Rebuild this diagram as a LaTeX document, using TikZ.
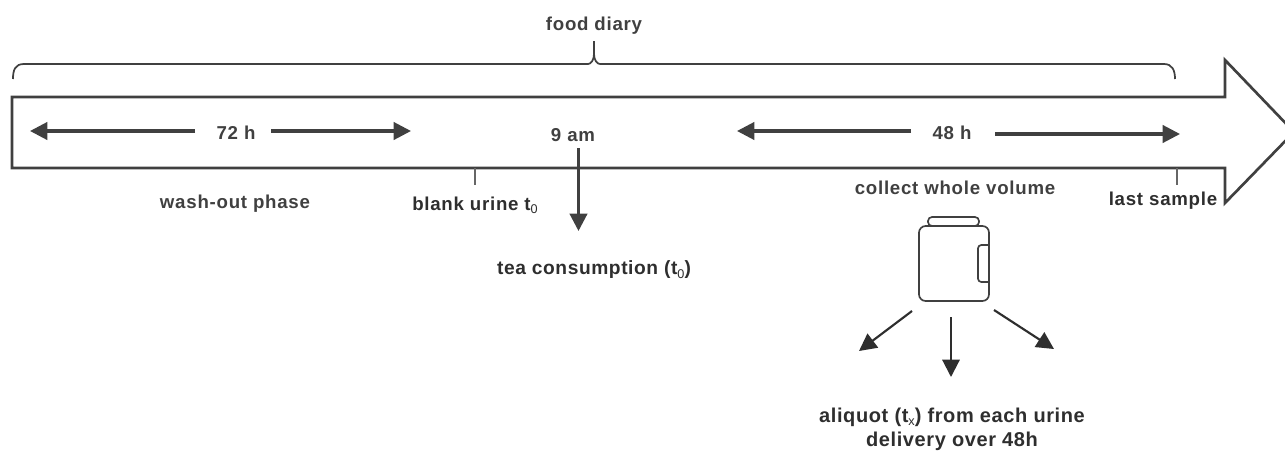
\documentclass[tikz,border=0pt]{standalone}
\usepackage{fontspec}
\setmainfont{Liberation Sans}
\usetikzlibrary{arrows.meta}
\definecolor{ink}{HTML}{404040}
\definecolor{ink2}{HTML}{2E2E2E}
\newcommand{\lowidx}[1]{\raisebox{-2.5pt}{\fontsize{9.5}{10}\selectfont\mdseries #1}}
\tikzset{
  px/.style={x=0.75pt,y=-0.75pt},
  outline/.style={draw=ink,line width=2pt,line join=miter},
  thinline/.style={draw=ink!80,line width=0.9pt},
  braceline/.style={draw=ink,line width=1.3pt},
  jarline/.style={draw=ink,line width=1.25pt},
  arr/.style={draw=ink,line width=2.3pt,-{Triangle[length=13pt,width=13pt]}},
  arrd/.style={draw=ink2,line width=1.6pt,-{Triangle[length=13pt,width=13pt]}},
  lab/.style={text=ink,font=\bfseries\fontsize{14}{16}\selectfont\addfontfeature{LetterSpace=4},inner sep=0pt},
  labd/.style={text=ink2,font=\bfseries\fontsize{14.4}{18.6}\selectfont\addfontfeature{LetterSpace=3},inner sep=0pt,align=center},
}
\begin{document}
\begin{tikzpicture}[px]
\useasboundingbox (0,0) rectangle (1285,450);
% big arrow
\draw[outline] (12,97) -- (1225,97) -- (1225,60) -- (1294,132) -- (1225,203) -- (1225,168) -- (12,168) -- cycle;
% brace
\coordinate (bl) at (13,79);
\coordinate (br) at (1175,79);
\coordinate (bt) at (594,41);
\draw[braceline] (bl) .. controls (13,70) and (15,64) .. (24,64) -- (588,64) .. controls (591,64) and (594,60) .. (594,54) -- (bt) -- (594,54) .. controls (594,60) and (597,64) .. (600,64) -- (1164,64) .. controls (1172,64) and (1175,70) .. (br);
\node[lab] (food) at (594,26) {food diary};
% 72h
\node[lab] (h72) at (236,133) {72 h};
\coordinate (a1) at (30,131);
\coordinate (a2) at (411,131);
\draw[arr] (195,131) -- (a1);
\draw[arr] (271,131) -- (a2);
% 48 h
\node[lab] (h48) at (952,133) {48 h};
\coordinate (b1) at (737,131);
\coordinate (b2) at (1180,134);
\draw[arr] (911,131) -- (b1);
\draw[arr] (995,134) -- (b2);
% 9 am
\node[lab] (am) at (573,135) {9 am};
\coordinate (teas) at (578.5,148);
\coordinate (tea) at (578.5,231);
\draw[arr] (teas) -- (tea);
% ticks
\coordinate (t1) at (475,168);
\coordinate (t1e) at (475,185);
\draw[thinline] (t1) -- (t1e);
\coordinate (t2) at (1177,168);
\coordinate (t2e) at (1177,185);
\draw[thinline] (t2) -- (t2e);
\node[lab] (wash) at (235,204) {wash-out phase};
\node[lab,text=ink2] (blank) at (475,205) {blank urine t\lowidx{0}};
\node[lab] (coll) at (955,188) {collect whole volume};
\node[lab,text=ink2] (last) at (1163,201) {last sample};
\node[labd] (teac) at (594,270) {tea consumption (t\lowidx{0})};
% jar
\draw[jarline,rounded corners=3pt] (928,226) rectangle (979,217);
\draw[jarline,rounded corners=5pt] (919,226) rectangle (989,301);
\draw[jarline,rounded corners=2.5pt] (989,245) -- (978,245) -- (978,282) -- (989,282);
% aliquot arrows
\coordinate (j1) at (912,311);
\coordinate (j2) at (951,317);
\coordinate (j3) at (994,310);
\coordinate (e1) at (859,351);
\coordinate (e2) at (951,377);
\coordinate (e3) at (1054,349);
\draw[arrd] (j1) -- (e1);
\draw[arrd] (j2) -- (e2);
\draw[arrd] (j3) -- (e3);
\node[labd,font=\bfseries\fontsize{15}{18.4}\selectfont\addfontfeature{LetterSpace=3}] (ali) at (952,429.5) {aliquot (t\lowidx{x}) from each urine\\delivery over 48h};
\end{tikzpicture}
\end{document}
